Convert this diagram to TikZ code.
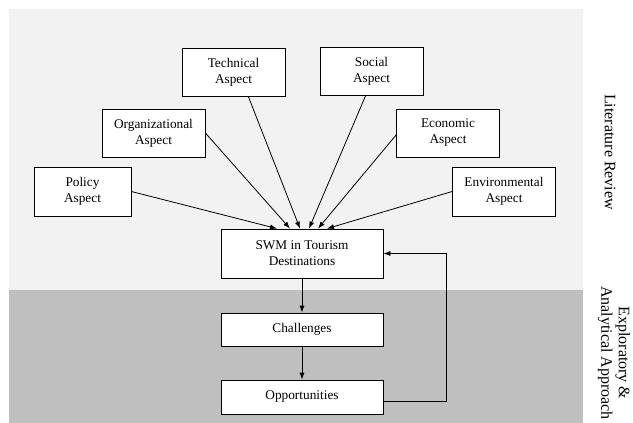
\documentclass[tikz,border=0pt]{standalone}
\usepackage{fontspec}
\setmainfont{Liberation Serif}
\usetikzlibrary{arrows.meta}
\definecolor{litgray}{HTML}{F2F2F2}
\definecolor{expgray}{HTML}{BFBFBF}
\begin{document}
\begin{tikzpicture}[x=1pt,y=-1pt,
  >={Latex[length=7pt,width=5pt]},
  aspect/.style={draw, fill=white, line width=0.8pt, align=center, inner sep=0pt,
    minimum width=103pt, minimum height=48pt, font=\fontsize{13.3}{16}\selectfont},
  stage/.style={aspect, minimum width=162pt},
  side/.style={rotate=-90, align=center, inner sep=0pt, font=\fontsize{16}{17.5}\selectfont}]
\useasboundingbox (0,0) rectangle (633,423);
\fill[litgray] (9,9) rectangle (583,290);
\fill[expgray] (9,290) rectangle (583,423);

\node[aspect] (tech) at (233.5,72.5) {Technical\\Aspect};
\node[aspect] (soc) at (371.5,71.5) {Social\\Aspect};
\node[aspect] (org) at (153.5,133) {Organizational\\Aspect};
\node[aspect] (eco) at (448,133) {Economic\\Aspect};
\node[aspect, minimum width=97pt, minimum height=49pt] (pol) at (82.5,191.5) {Policy\\Aspect};
\node[aspect, minimum height=49pt] (env) at (504,191.5) {Environmental\\Aspect};
\node[stage, minimum height=49pt] (swm) at (302,253.5) {SWM in Tourism\\Destinations};
\node[stage, minimum height=33pt] (chal) at (302,329.5) {Challenges};
\node[stage, minimum height=34pt] (opp) at (302,397) {Opportunities};
\coordinate (fb) at (446,253.5);

\node[side] (lit) at (610,152) {Literature Review};
\node[side] (expl) at (614,353) {Exploratory \&\\Analytical Approach};

\path[draw,line width=0.8pt,->] (pol.east) -- ([xshift=-25pt]swm.north);
\path[draw,line width=0.8pt,->] (org.east) -- ([xshift=-12pt]swm.north);
\path[draw,line width=0.8pt,->] ([xshift=15pt]tech.south) -- ([xshift=-2pt]swm.north);
\path[draw,line width=0.8pt,->] ([xshift=-6pt]soc.south) -- ([xshift=7pt]swm.north);
\path[draw,line width=0.8pt,->] ([yshift=-2pt]eco.west) -- ([xshift=16pt]swm.north);
\path[draw,line width=0.8pt,->] (env.west) -- ([xshift=25pt]swm.north);

\path[draw,line width=0.8pt,->] (swm) -- (chal);
\path[draw,line width=0.8pt,->] (chal) -- (opp);
\path[draw,line width=0.8pt,->] ([yshift=-4pt]opp.east) -| (fb) -- (swm.east);
\end{tikzpicture}
\end{document}
